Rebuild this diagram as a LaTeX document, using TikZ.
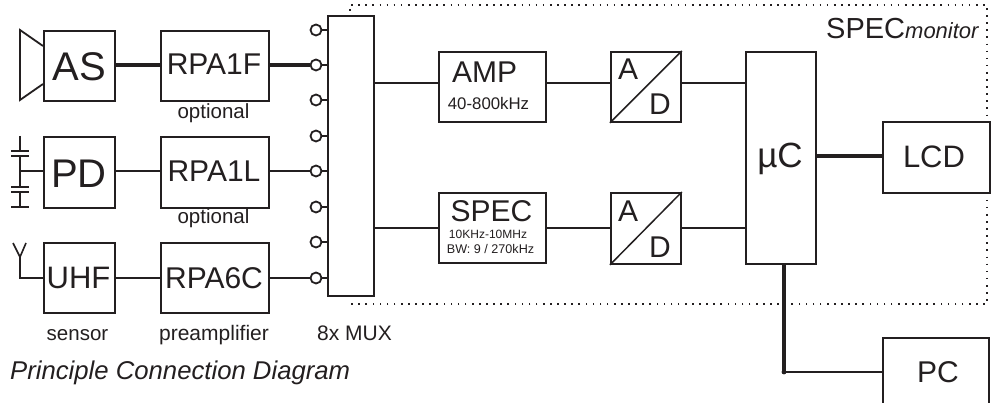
\documentclass[tikz,border=0pt]{standalone}
\usepackage{fontspec}
\setmainfont{Liberation Sans}
\newcommand{\fs}[1]{\fontsize{#1}{#1}\selectfont}
\tikzset{
  blk/.style={draw=ink,line width=1.8pt,fill=white,minimum width=#1,inner sep=0pt,anchor=north west},
  wire/.style={draw=ink,line width=1.8pt},
  heavy wire/.style={draw=ink,line width=3.2pt},
  port/.style={circle,draw=ink,line width=1.8pt,fill=white,minimum size=11pt,inner sep=0pt},
  lab/.style={text=ink,inner sep=0pt}
}
\definecolor{ink}{HTML}{231F20}
\begin{document}
\begin{tikzpicture}[x=1pt,y=-1pt]
\useasboundingbox (0,0) rectangle (992,403);
\fill[white] (0,0) rectangle (992,403);
% dotted frame
\coordinate (d1) at (350,11); \coordinate (d0) at (350,5); \coordinate (d2) at (987,5); \coordinate (d3) at (987,304); \coordinate (d4) at (350,304); \coordinate (d5) at (350,302);
\draw[ink,line width=1.3pt,dash pattern=on 1.6pt off 5.5pt] (d1) -- (d0) -- (d2) -- (d3) -- (d4) -- (d5);
% boxes
\node[blk=71pt,minimum height=70pt] (as) at (43,30) {};
\node[blk=108pt,minimum height=70pt] (rf) at (160,30) {};
\node[blk=71pt,minimum height=71pt] (pd) at (43,136) {};
\node[blk=108pt,minimum height=71pt] (rl) at (160,136) {};
\node[blk=71pt,minimum height=70pt] (uhf) at (43,242) {};
\node[blk=108pt,minimum height=70pt] (r6) at (160,242) {};
\node[blk=46pt,minimum height=280pt] (mux) at (327,15) {};
\node[blk=107pt,minimum height=70pt] (amp) at (438,51) {};
\node[blk=107pt,minimum height=70pt] (spec) at (438,192) {};
\node[blk=70pt,minimum height=70pt] (ad1) at (610,51) {};
\node[blk=70pt,minimum height=71pt] (ad2) at (610,192) {};
\node[blk=70pt,minimum height=212pt] (uc) at (745,51) {};
\node[blk=107pt,minimum height=71pt] (lcd) at (882,121) {};
\node[blk=106pt,minimum height=72pt] (pc) at (882,337) {};
% box texts
\node[lab,font=\fs{40},anchor=base] at (79,81) {AS};
\node[lab,font=\fs{30},anchor=base] at (214,75) {RPA1F};
\node[lab,font=\fs{40},anchor=base] at (79,188) {PD};
\node[lab,font=\fs{30},anchor=base] at (214,182) {RPA1L};
\node[lab,font=\fs{31},anchor=base] at (78.5,288) {UHF};
\node[lab,font=\fs{30},anchor=base] at (214,288) {RPA6C};
\node[lab,font=\fs{30},anchor=base] at (484.5,83) {AMP};
\node[lab,font=\fs{16.8},anchor=base] at (488.5,110) {40-800kHz};
\node[lab,font=\fs{30},anchor=base] at (491.5,222) {SPEC};
\node[lab,font=\fs{12},anchor=base] at (488,239) {10KHz-10MHz};
\node[lab,font=\fs{12.6},anchor=base] at (490.5,254) {BW: 9 / 270kHz};
\draw[ink,line width=1.5pt] (ad1.south west) -- (ad1.north east);
\draw[ink,line width=1.5pt] (ad2.south west) -- (ad2.north east);
\node[lab,font=\fs{30},anchor=base] at (628,80) {A};
\node[lab,font=\fs{30},anchor=base] at (660,115) {D};
\node[lab,font=\fs{30},anchor=base] at (628,222) {A};
\node[lab,font=\fs{30},anchor=base] at (660,257) {D};
\node[lab,font=\fs{35},anchor=base] at (780,168) {µC};
\node[lab,font=\fs{31},anchor=base] at (934,168) {LCD};
\node[lab,font=\fs{30},anchor=base] at (938,382) {PC};
% ports
\foreach \n/\y in {1/30,2/65,3/100,4/136,5/171,6/207,7/242,8/278}{
  \coordinate (m\n) at (327,\y);
  \node[port] (p\n) at (316,\y) {};
  \draw[wire] (p\n) -- (m\n);
}
% connectors
\draw[heavy wire] (as.east |- p2) -- (rf.west |- p2);
\draw[heavy wire] (rf.east |- p2) -- (p2.west);
\draw[wire] (pd.east |- p5) -- (rl.west |- p5);
\draw[wire] (rl.east |- p5) -- (p5.west);
\draw[wire] (uhf.east |- p8) -- (r6.west |- p8);
\draw[wire] (r6.east |- p8) -- (p8.west);
\coordinate (mo1) at (373,83); \coordinate (mo2) at (373,228);
\draw[wire] (mo1) -- (amp.west |- mo1);
\draw[wire] (mo2) -- (spec.west |- mo2);
\draw[wire] (amp.east |- mo1) -- (ad1.west |- mo1);
\draw[wire] (spec.east |- mo2) -- (ad2.west |- mo2);
\draw[wire] (ad1.east |- mo1) -- (uc.west |- mo1);
\draw[wire] (ad2.east |- mo2) -- (uc.west |- mo2);
\coordinate (ly) at (0,156);
\draw[heavy wire] (lcd.west |- ly) -- (uc.east |- ly);
\coordinate (corner) at (784,372);
\draw[heavy wire] (uc.south -| corner) -- (corner);
\draw[wire,line width=2.4pt] (corner) -- (corner -| pc.west);
\fill[ink] (corner) circle (2.4pt);
% speaker
\coordinate (s1) at (43,46); \coordinate (s2) at (20,30); \coordinate (s3) at (20,100); \coordinate (s4) at (43,84);
\draw[ink,line width=1.8pt] (s1) -- (s2) -- (s3) -- (s4);
% capacitor array
\coordinate (pt) at (20,136); \coordinate (pm) at (20,171); \coordinate (pb) at (20,207);
\draw[wire] (pt) -- (20,151);
\draw[wire] (20,156) -- (20,187);
\draw[wire] (20,192) -- (pb);
\draw[wire] (pm) -- (pd.west |- pm);
\foreach \y in {151,156,187,192,207} \draw[ink,line width=1.8pt] (11,\y) -- (29,\y);
% antenna
\coordinate (a0) at (20,278); \coordinate (a1) at (20,257);
\draw[wire] (uhf.west |- a0) -- (a0) -- (a1);
\draw[ink,line width=1.6pt] (13,243) -- (a1) -- (26,243);
% labels
\node[lab,font=\fs{20.5},anchor=base] at (213.5,119) {optional};
\node[lab,font=\fs{20.5},anchor=base] at (213.5,224) {optional};
\node[lab,font=\fs{20.5},anchor=base] at (77.5,340) {sensor};
\node[lab,font=\fs{21},anchor=base] at (214,340) {preamplifier};
\node[lab,font=\fs{21},anchor=base] at (354.5,340) {8x MUX};
\node[lab,font=\fs{25.7}\itshape,anchor=base west] at (10,379) {Principle Connection Diagram};
\node[lab,font=\fs{29},anchor=base west] at (826,39) {SPEC\fs{22}\itshape monitor};
\end{tikzpicture}
\end{document}
